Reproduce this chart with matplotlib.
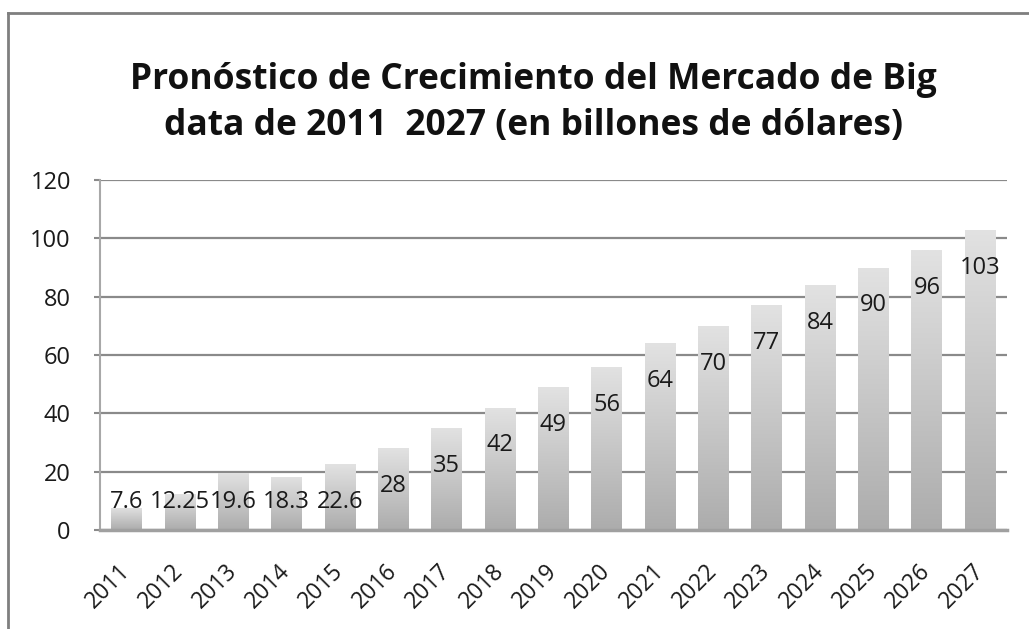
import numpy as np
import matplotlib
matplotlib.use('Agg')
import matplotlib.pyplot as plt
from matplotlib.colors import LinearSegmentedColormap
from matplotlib.lines import Line2D

plt.rcParams['font.family'] = ['Open Sans', 'DejaVu Sans']

years = ['2011', '2012', '2013', '2014', '2015', '2016', '2017', '2018', '2019',
         '2020', '2021', '2022', '2023', '2024', '2025', '2026', '2027']
values = [7.6, 12.25, 19.6, 18.3, 22.6, 28, 35, 42, 49, 56, 64, 70, 77, 84, 90, 96, 103]
labels = ['7.6', '12.25', '19.6', '18.3', '22.6', '28', '35', '42', '49', '56',
          '64', '70', '77', '84', '90', '96', '103']
yticks = [0, 20, 40, 60, 80, 100, 120]

title = 'Pronóstico de Crecimiento del Mercado de Big\ndata de 2011  2027 (en billones de dólares)'

fig = plt.figure(figsize=(10.29, 6.29), dpi=100)
ax = fig.add_axes([100 / 1029, 1 - 530 / 629, 907 / 1029, 350 / 629])

# outer frame (only left and top visible in the crop)
fig.add_artist(Line2D([8 / 1029, 8 / 1029], [0, 1 - 13 / 629], transform=fig.transFigure,
                      color='#7f7f7f', lw=2))
fig.add_artist(Line2D([8 / 1029, 1], [1 - 13 / 629, 1 - 13 / 629], transform=fig.transFigure,
                      color='#7f7f7f', lw=2))

fig.text(0.518, 1 - 103 / 629, title, ha='center', va='center', fontsize=25.5,
         fontweight='bold', linespacing=1.35, color='#111111')

x = np.arange(len(years))
bars = ax.bar(x, values, width=0.58, color='none', zorder=2)

cmap = LinearSegmentedColormap.from_list('g', ['#acacac', '#e2e2e2'])
grad = np.linspace(0, 1, 256).reshape(-1, 1)
for b in bars:
    x0, w, h = b.get_x(), b.get_width(), b.get_height()
    im = ax.imshow(grad, cmap=cmap, origin='lower', aspect='auto',
                   extent=[x0, x0 + w, 0, h], zorder=2)
    im.set_clip_path(b)

for xi, v, lab in zip(x, values, labels):
    ax.text(xi, max(v - 13, 9.6), lab, ha='center', va='center', fontsize=17,
            color='#1a1a1a', zorder=3)

ax.set_xlim(-0.5, len(years) - 0.5)
ax.set_ylim(0, 120)
ax.set_yticks(yticks)
ax.set_yticklabels([str(t) for t in yticks])
ax.set_xticks(x)
ax.set_xticklabels(years, rotation=45, ha='right', va='center', rotation_mode='anchor')

ax.yaxis.grid(True, color='#8a8a8a', lw=1.6, zorder=1)
ax.set_axisbelow(True)
ax.tick_params(axis='y', length=4, width=1.5, color='#8a8a8a', labelsize=17, pad=17,
               labelcolor='#1a1a1a')
ax.tick_params(axis='x', length=0, labelsize=16.5, pad=27, labelcolor='#1a1a1a')

for s in ['top', 'right']:
    ax.spines[s].set_visible(False)
ax.spines['left'].set_color('#a8a8a8')
ax.spines['left'].set_linewidth(1.5)
ax.spines['bottom'].set_color('#a0a0a0')
ax.spines['bottom'].set_linewidth(2.5)
ax.spines['bottom'].set_zorder(4)

fig.savefig('out.png', dpi=100)
